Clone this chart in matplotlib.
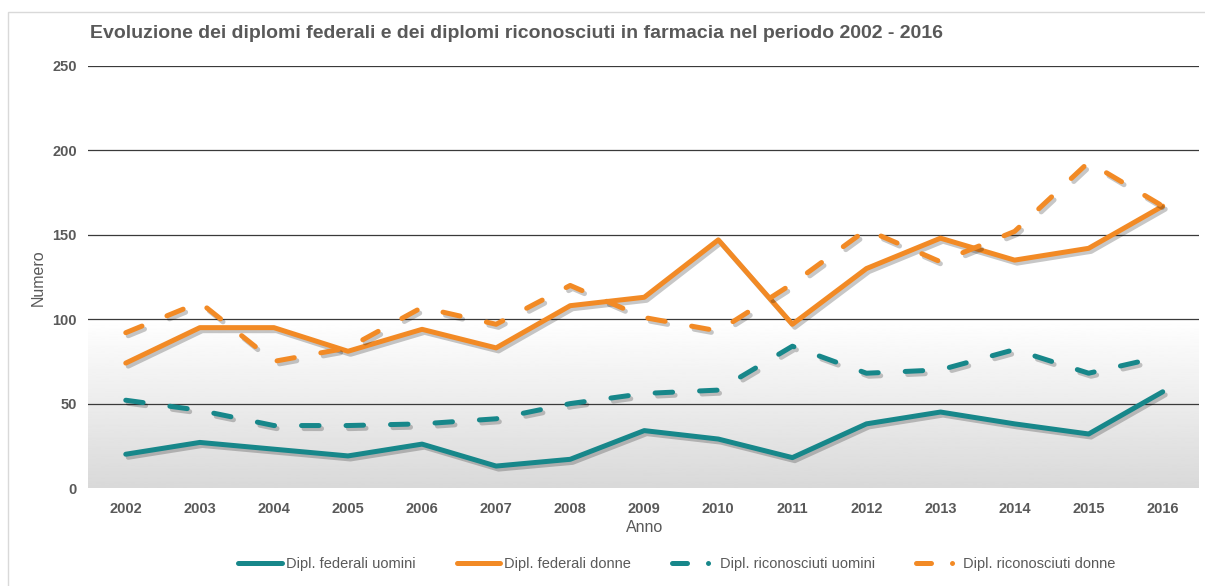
import numpy as np
import matplotlib
matplotlib.use("Agg")
import matplotlib.pyplot as plt
import matplotlib.patheffects as pe
from matplotlib.lines import Line2D
from matplotlib.patches import Rectangle

plt.rcParams['font.family'] = ['Liberation Sans', 'DejaVu Sans']

years = ["2002", "2003", "2004", "2005", "2006", "2007", "2008", "2009",
         "2010", "2011", "2012", "2013", "2014", "2015", "2016"]
fed_uomini = [20, 27, 23, 19, 26, 13, 17, 34, 29, 18, 38, 45, 38, 32, 57]
fed_donne = [74, 95, 95, 81, 94, 83, 108, 113, 147, 97, 130, 148, 135, 142, 167]
ric_uomini = [52, 46, 37, 37, 38, 41, 50, 56, 58, 84, 68, 70, 82, 68, 78]
ric_donne = [92, 110, 75, 83, 107, 97, 120, 101, 93, 121, 153, 134, 152, 193, 167]
labels = ["Dipl. federali uomini", "Dipl. federali donne",
          "Dipl. riconosciuti uomini", "Dipl. riconosciuti donne"]
yticks = [0, 50, 100, 150, 200, 250]

TEAL = "#17878a"
ORANGE = "#f28a25"
GRAY = "#595959"

W, H = 1205, 586
fig = plt.figure(figsize=(W / 100, H / 100), dpi=100)
fig.patch.set_facecolor("white")

# outer frame (left & top visible)
fig.patches.append(Rectangle((8 / W, -0.2), 2.0, 1.2 - 12 / H,
                             transform=fig.transFigure, fill=False,
                             edgecolor="#d9d9d9", lw=1.0, zorder=0))

ax = fig.add_axes([88 / W, 1 - 488 / H, (1199 - 88) / W, (488 - 66) / H])
x = np.arange(len(years))
x0, x1 = -0.51, len(years) - 1 + 0.49
ax.set_xlim(x0, x1)
ax.set_ylim(0, 250)

# gradient background 0..100
grad = np.linspace(0.85, 1.0, 256).reshape(-1, 1)
ax.imshow(grad, extent=[x0, x1, 0, 100], origin="lower",
          cmap="gray", vmin=0, vmax=1, aspect="auto", zorder=0)

for yv in yticks[1:]:
    ax.axhline(yv, color="#3a3a3a", lw=0.9, zorder=1)

shadow = [pe.SimpleLineShadow(offset=(1.8, -2.2), shadow_color="black", alpha=0.22),
          pe.Normal()]
lw = 3.6
dash = (3.5, 5.4)

ax.plot(x, fed_uomini, color=TEAL, lw=lw, solid_capstyle="round",
        solid_joinstyle="round", path_effects=shadow, zorder=3)
ax.plot(x, fed_donne, color=ORANGE, lw=lw, solid_capstyle="round",
        solid_joinstyle="round", path_effects=shadow, zorder=3)
ax.plot(x, ric_uomini, color=TEAL, lw=lw, linestyle=(0, dash), dash_capstyle="round",
        dash_joinstyle="round", path_effects=shadow, zorder=3)
ax.plot(x, ric_donne, color=ORANGE, lw=lw, linestyle=(0, dash), dash_capstyle="round",
        dash_joinstyle="round", path_effects=shadow, zorder=3)

ax.set_xticks(x)
ax.set_xticklabels(years, fontsize=10.5, fontweight="bold", color=GRAY)
ax.set_yticks(yticks)
ax.set_yticklabels([str(v) for v in yticks], fontsize=10.5, fontweight="bold", color=GRAY)
ax.tick_params(axis="both", length=0)
ax.tick_params(axis="x", pad=10)
ax.tick_params(axis="y", pad=8)
for s in ax.spines.values():
    s.set_visible(False)

fig.text(38 / W, 1 - 278 / H, "Numero", rotation=90, ha="center", va="center",
         fontsize=11.5, color=GRAY)
fig.text(645 / W, 1 - 527 / H, "Anno", ha="center", va="center",
         fontsize=11.5, color=GRAY)
fig.text(90 / W, 1 - 33 / H,
         "Evoluzione dei diplomi federali e dei diplomi riconosciuti in farmacia nel periodo 2002 - 2016",
         ha="left", va="center", fontsize=14, fontweight="bold", color=GRAY)

dleg = (0, (3.0, 4.2, 0.01, 20.0))
handles = [
    Line2D([], [], color=TEAL, lw=lw, solid_capstyle="round"),
    Line2D([], [], color=ORANGE, lw=lw, solid_capstyle="round"),
    Line2D([], [], color=TEAL, lw=lw, linestyle=dleg, dash_capstyle="round"),
    Line2D([], [], color=ORANGE, lw=lw, linestyle=dleg, dash_capstyle="round"),
]
fig.legend(handles, labels, loc="center", bbox_to_anchor=(677 / W, 1 - 564 / H),
           ncol=4, frameon=False, fontsize=10.5, labelcolor=GRAY,
           handlelength=3.0, handletextpad=0.27, columnspacing=2.8)

fig.savefig("out.png", dpi=100)
